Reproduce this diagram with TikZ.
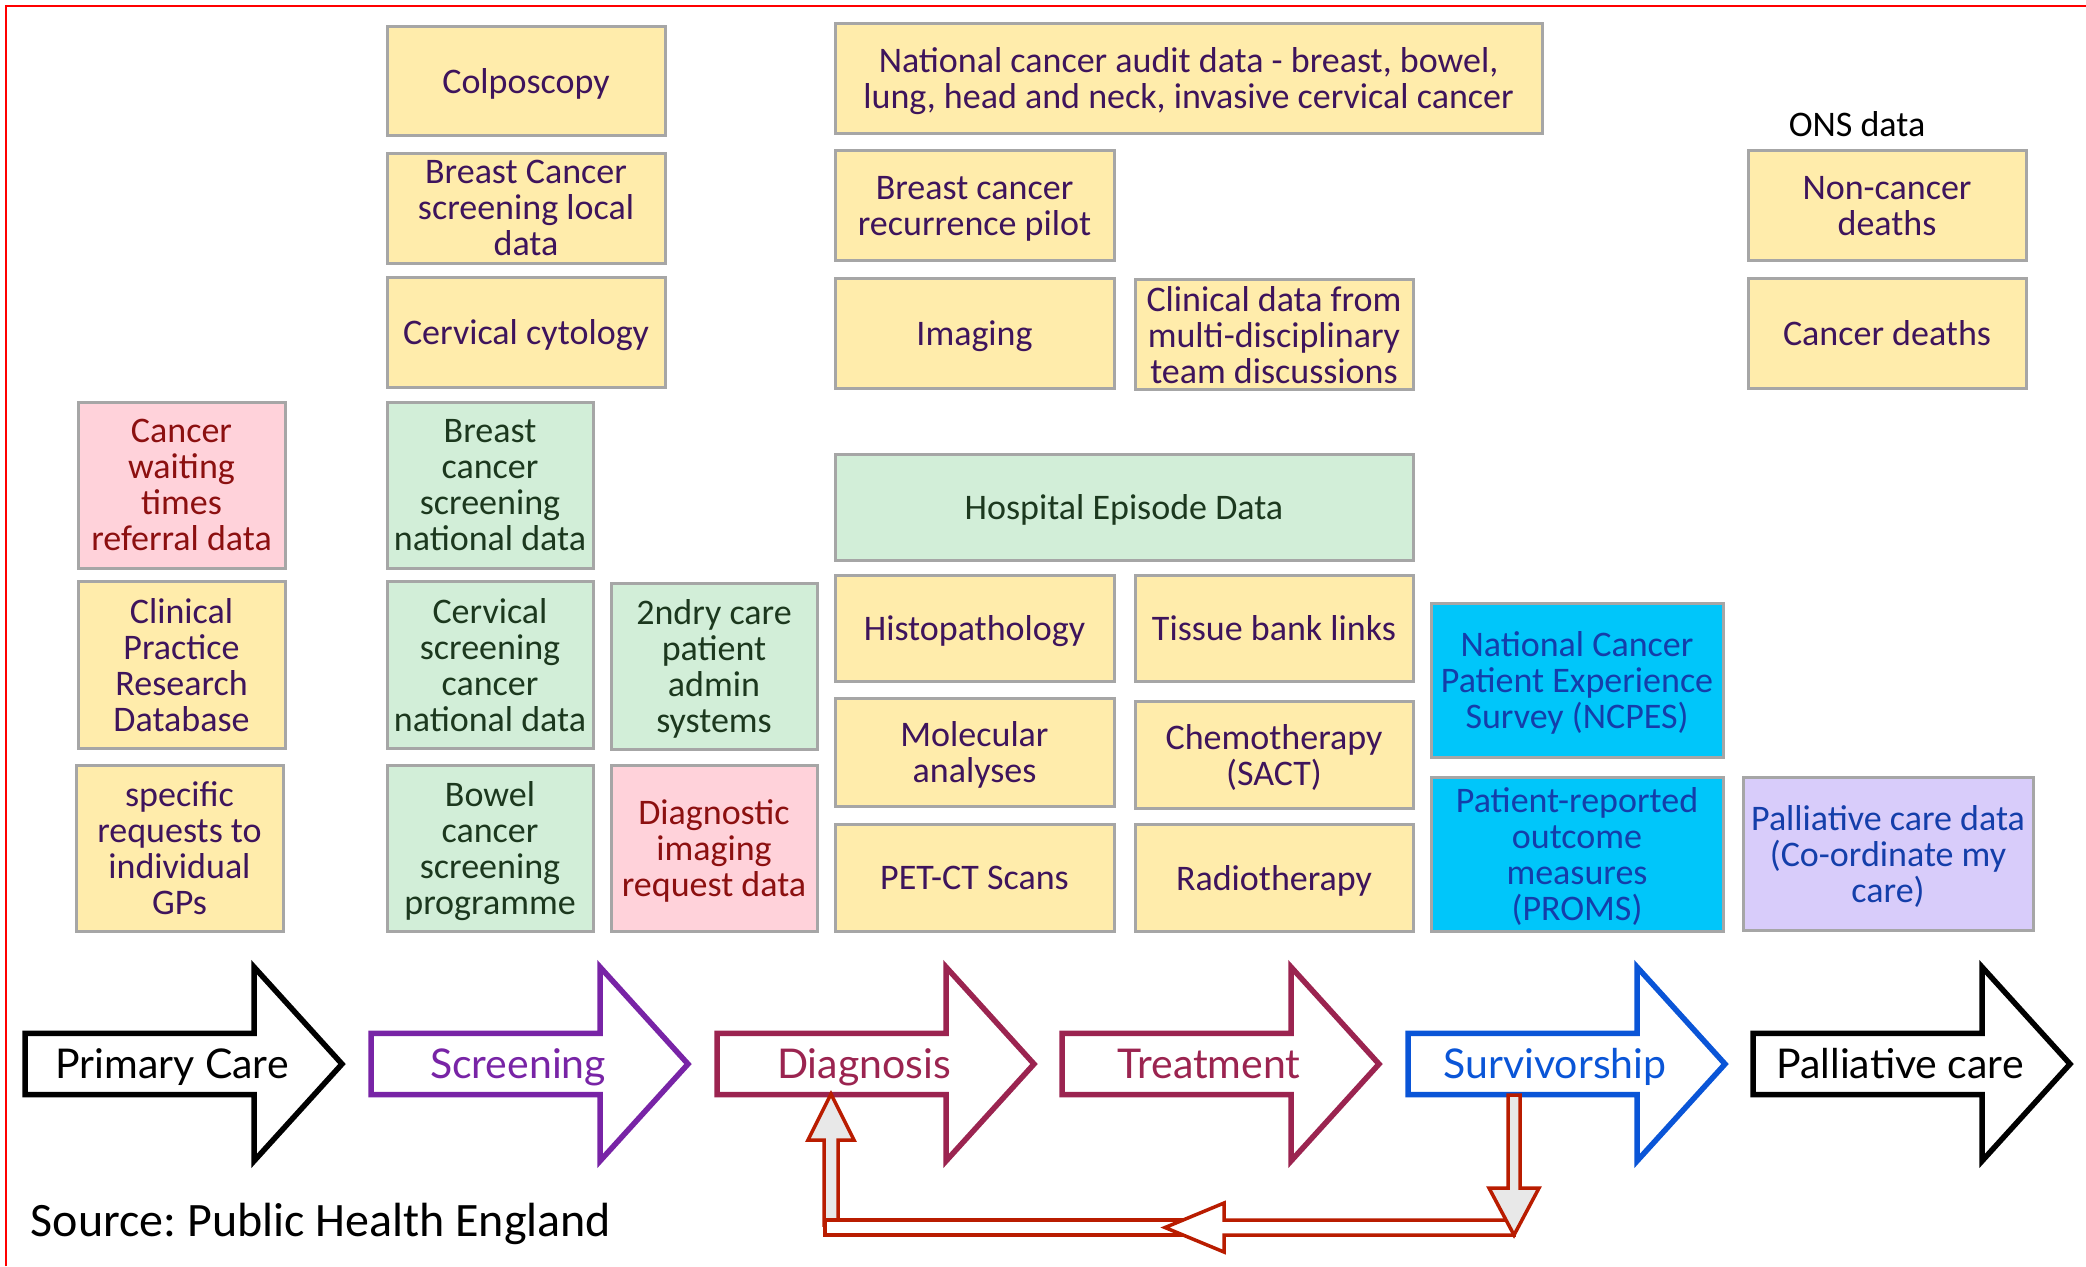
\documentclass[tikz,border=0pt]{standalone}
\usepackage{fontspec}
\setmainfont{Carlito}
\newfontfamily\stagefont{Lato}
\usetikzlibrary{calc}
\frenchspacing

\definecolor{boxgray}{RGB}{166, 166, 166}
\definecolor{boxyellow}{RGB}{255, 236, 171}
\definecolor{boxgreen}{RGB}{210, 238, 216}
\definecolor{boxpink}{RGB}{255, 210, 218}
\definecolor{boxcyan}{RGB}{0, 198, 250}
\definecolor{boxlilac}{RGB}{216, 204, 250}
\definecolor{txtpurple}{RGB}{62, 20, 92}
\definecolor{txtgreen}{RGB}{28, 56, 30}
\definecolor{txtred}{RGB}{140, 16, 16}
\definecolor{txtblue}{RGB}{20, 62, 170}
\definecolor{scrpurple}{RGB}{120, 36, 166}
\definecolor{diagred}{RGB}{155, 36, 80}
\definecolor{survblue}{RGB}{10, 85, 215}
\definecolor{loopred}{RGB}{185, 28, 0}
\definecolor{loopgray}{RGB}{232, 232, 232}

\tikzset{
  databox/.style={draw=boxgray, line width=1.5pt, align=center, inner sep=0pt,
    text depth=0pt, font=\fontsize{18}{18}\selectfont},
  yellowbox/.style={databox, fill=boxyellow, text=txtpurple},
  greenbox/.style={databox, fill=boxgreen, text=txtgreen},
  pinkbox/.style={databox, fill=boxpink, text=txtred},
  cyanbox/.style={databox, fill=boxcyan, text=txtblue},
  lilacbox/.style={databox, fill=boxlilac, text=txtblue},
  stagearrow/.style={line width=2.75pt, fill=white},
  stagelabel/.style={font=\stagefont\fontsize{20.5}{20.5}\selectfont,
    text height=14pt, text depth=0pt},
  looparrow/.style={draw=loopred, line width=1.75pt},
}

\begin{document}
\begin{tikzpicture}[x=0.5pt, y=-0.5pt]
  \useasboundingbox (0,0) rectangle (2086,1266);

  % Frame
  \draw[red, line width=1pt] (6,1266) -- (6,6) -- (2086,6);

  % Primary care column
  \node[pinkbox, minimum width=103.5pt, minimum height=83pt] (cwt) at (181.5,485) {Cancer\\waiting\\times\\referral data};
  \node[yellowbox, minimum width=103.5pt, minimum height=83.5pt] (cprd) at (181.5,664.5) {Clinical\\Practice\\Research\\Database};
  \node[yellowbox, minimum width=103.5pt, minimum height=83pt] (gps) at (179.5,848) {specific\\requests to\\individual\\GPs};

  % Screening column
  \node[yellowbox, minimum width=139pt, minimum height=54.5pt] (colpo) at (526,81) {Colposcopy};
  \node[yellowbox, minimum width=139pt, minimum height=55pt] (bclocal) at (526,208) {Breast Cancer\\screening local\\data};
  \node[yellowbox, minimum width=139pt, minimum height=55pt] (cytology) at (526,332) {Cervical cytology};
  \node[greenbox, minimum width=103pt, minimum height=83pt] (bcnational) at (490,485) {Breast\\cancer\\screening\\national data};
  \node[greenbox, minimum width=103pt, minimum height=83.5pt] (cervnat) at (490,664.5) {Cervical\\screening\\cancer\\national data};
  \node[greenbox, minimum width=103pt, minimum height=83pt] (bowel) at (490,848) {Bowel\\cancer\\screening\\programme};
  \node[greenbox, minimum width=103pt, minimum height=83pt] (admin) at (714,666) {2ndry care\\patient\\admin\\systems};
  \node[pinkbox, minimum width=103pt, minimum height=83pt] (diagimg) at (714,848) {Diagnostic\\imaging\\request data};

  % Diagnosis and treatment columns
  \node[yellowbox, minimum width=353.5pt, minimum height=55pt] (audit) at (1188.5,78) {National cancer audit data - breast, bowel,\\lung, head and neck, invasive cervical cancer};
  \node[yellowbox, minimum width=139.5pt, minimum height=55pt] (recur) at (974.5,205.5) {Breast cancer\\recurrence pilot};
  \node[yellowbox, minimum width=139.5pt, minimum height=55pt] (imaging) at (974.5,333) {Imaging};
  \node[yellowbox, minimum width=139pt, minimum height=55pt] (mdt) at (1274,334.5) {Clinical data from\\multi-disciplinary\\team discussions};
  \node[greenbox, minimum width=289pt, minimum height=53pt] (hes) at (1124,507) {Hospital Episode Data};
  \node[yellowbox, minimum width=139.5pt, minimum height=53pt] (histo) at (974.5,628) {Histopathology};
  \node[yellowbox, minimum width=139pt, minimum height=53pt] (tissue) at (1274,628) {Tissue bank links};
  \node[yellowbox, minimum width=139.5pt, minimum height=54pt] (molecular) at (974.5,752) {Molecular\\analyses};
  \node[yellowbox, minimum width=139pt, minimum height=53.5pt] (sact) at (1274,754.5) {Chemotherapy\\(SACT)};
  \node[yellowbox, minimum width=139.5pt, minimum height=53.5pt] (petct) at (974.5,877.5) {PET-CT Scans};
  \node[yellowbox, minimum width=139pt, minimum height=53.5pt] (radio) at (1274,877.5) {Radiotherapy};

  % Survivorship column
  \node[cyanbox, minimum width=146pt, minimum height=77pt] (ncpes) at (1577,680) {National Cancer\\Patient Experience\\Survey (NCPES)};
  \node[cyanbox, minimum width=146pt, minimum height=77pt] (proms) at (1577,854) {Patient-reported\\outcome\\measures\\(PROMS)};

  % Palliative care column
  \node[font=\fontsize{18}{18}\selectfont] (ons) at (1857,124) {ONS data};
  \node[yellowbox, minimum width=139pt, minimum height=55pt] (noncancer) at (1887,205.5) {Non-cancer\\deaths};
  \node[yellowbox, minimum width=139pt, minimum height=55pt] (cancerdeaths) at (1887,333) {Cancer deaths};
  \node[lilacbox, minimum width=145pt, minimum height=76.5pt] (palldata) at (1888,853.5) {Palliative care data\\(Co-ordinate my\\care)};

  % Pathway arrows
  \foreach \x/\col/\name/\lab in {25/black/pc/Primary Care, 371/scrpurple/scr/Screening,
      717/diagred/diag/Diagnosis, 1062/diagred/treat/Treatment,
      1408/survblue/surv/Survivorship, 1753/black/pall/Palliative care} {
    \draw[stagearrow, draw=\col] (\x,1033.4) -- ++(229,0) -- ++(0,-66.4) -- ++(88,97)
      -- ++(-88,97) -- ++(0,-66.4) -- ++(-229,0) -- cycle;
    \node[stagelabel, text=\col] (\name) at ({\x+147},1064) {\lab};
  }

  % Feedback loop from survivorship back to diagnosis
  \coordinate (survfoot) at (1514,1095);
  \coordinate (diagfoot) at (831,1094);
  \draw[looparrow, fill=loopgray] (diagfoot) -- ++(23,46) -- ++(-16,0) -- ++(0,85)
    -- ++(-14,0) -- ++(0,-85) -- ++(-16,0) -- cycle;
  \draw[looparrow, fill=white] ($(diagfoot)+(-6,126)$) rectangle (1190,1235);
  \draw[looparrow, fill=white] ($(survfoot)+(0,125)$) -- (1224,1220) -- (1224,1203)
    -- (1165,1227.5) -- (1224,1252) -- (1224,1235) -- ($(survfoot)+(0,140)$) -- cycle;
  \draw[looparrow, fill=loopgray] ($(survfoot)+(-6,0)$) -- ++(12,0) -- ++(0,93) -- ++(19,0)
    -- ++(-25,47) -- ++(-25,-47) -- ++(19,0) -- cycle;

  % Source
  \node[font=\fontsize{24}{24}\selectfont] (source) at (321,1224) {Source: Public Health England};
\end{tikzpicture}
\end{document}
